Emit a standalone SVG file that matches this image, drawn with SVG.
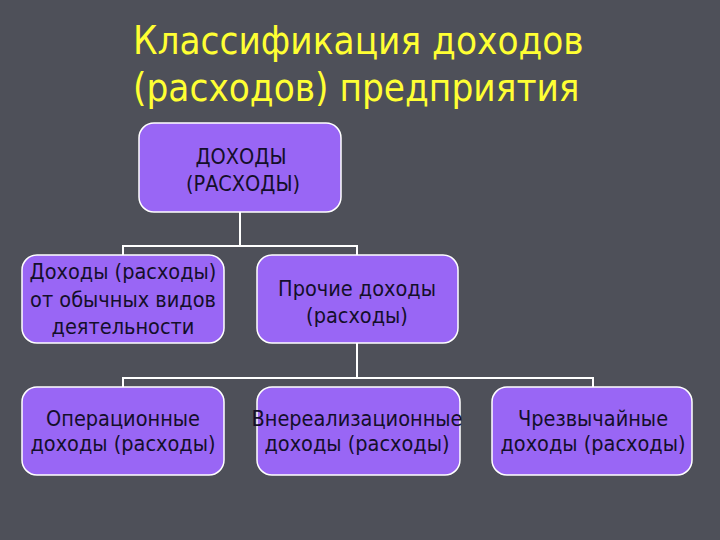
<svg xmlns="http://www.w3.org/2000/svg" width="720" height="540" viewBox="0 0 720 540">
<style>
.bg{fill:#4e5059}
.title{font-family:"DejaVu Sans Condensed","DejaVu Sans",sans-serif;font-size:38.3px;fill:#ffff33}
.box{fill:#9966f5;stroke:#ffffff;stroke-width:1.5}
.lbl{font-family:"DejaVu Sans Condensed","DejaVu Sans",sans-serif;font-size:21.5px;fill:#140f2a;text-anchor:middle}
.conn{stroke:#ffffff;stroke-width:2;fill:none}
</style>
<rect class="bg" x="0" y="0" width="720" height="540"/>
<g id="title">
<text class="title" x="133" y="54">Классификация доходов</text>
<text class="title" x="133" y="101">(расходов) предприятия</text>
</g>
<g id="connectors">
<path class="conn" d="M240 212 V246 M123 255 V246 H357 V255"/>
<path class="conn" d="M357 343 V378 M123 387 V378 H593 V387"/>
</g>
<g id="root">
<rect class="box" x="139" y="123" width="202" height="89" rx="15"/>
<text class="lbl" x="241" y="164">ДОХОДЫ</text>
<text class="lbl" x="243" y="191">(РАСХОДЫ)</text>
</g>
<g id="ordinary">
<rect class="box" x="22" y="255" width="202" height="88" rx="15"/>
<text class="lbl" x="123" y="279">Доходы (расходы)</text>
<text class="lbl" x="123" y="307">от обычных видов</text>
<text class="lbl" x="123" y="334">деятельности</text>
</g>
<g id="other">
<rect class="box" x="257" y="255" width="201" height="88" rx="15"/>
<text class="lbl" x="357" y="296">Прочие доходы</text>
<text class="lbl" x="357" y="323">(расходы)</text>
</g>
<g id="operating">
<rect class="box" x="22" y="387" width="202" height="88" rx="15"/>
<text class="lbl" x="123" y="426">Операционные</text>
<text class="lbl" x="123" y="451">доходы (расходы)</text>
</g>
<g id="nonoperating">
<rect class="box" x="257" y="387" width="203" height="88" rx="15"/>
<text class="lbl" x="357" y="426">Внереализационные</text>
<text class="lbl" x="357" y="451">доходы (расходы)</text>
</g>
<g id="extraordinary">
<rect class="box" x="492" y="387" width="200" height="88" rx="15"/>
<text class="lbl" x="593" y="426">Чрезвычайные</text>
<text class="lbl" x="593" y="451">доходы (расходы)</text>
</g>
</svg>
